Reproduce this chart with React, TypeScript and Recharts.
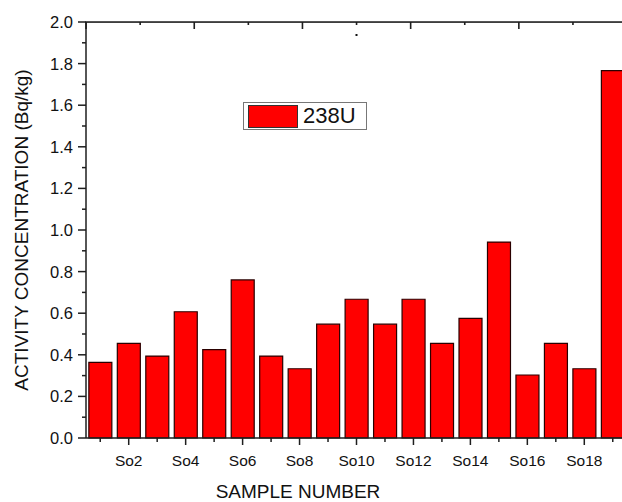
import React from 'react';
import { BarChart, Bar, XAxis, YAxis } from 'recharts';

const categories = ['So1','So2','So3','So4','So5','So6','So7','So8','So9','So10','So11','So12','So13','So14','So15','So16','So17','So18','So19'];
const u238 = [0.364, 0.455, 0.394, 0.607, 0.425, 0.76, 0.394, 0.333, 0.547, 0.667, 0.547, 0.667, 0.455, 0.575, 0.942, 0.303, 0.455, 0.333, 1.766];
const yTicks = [0, 0.1, 0.2, 0.3, 0.4, 0.5, 0.6, 0.7, 0.8, 0.9, 1.0, 1.1, 1.2, 1.3, 1.4, 1.5, 1.6, 1.7, 1.8, 1.9, 2.0];
const topTickSteps = [0, 1, 2, 3, 4, 5, 6, 7, 8, 9, 10];
const seriesName = '238U';
const xTitle = 'SAMPLE NUMBER';
const yTitle = 'ACTIVITY CONCENTRATION (Bq/kg)';

const data = categories.map((name, i) => ({ name, u238: u238[i] }));

const FONT = '"Liberation Sans", Arial, sans-serif';
const AX = '#1e1e1e';
const CHART_W = 641;
const CHART_H = 502;
const PLOT_TOP = 22;
const LEFT_AXIS_W = 86;
const RIGHT_AXIS_W = 14;
const BOTTOM_AXIS_H = 64;
const PLOT_LEFT = LEFT_AXIS_W;
const PLOT_W = CHART_W - LEFT_AXIS_W - RIGHT_AXIS_W;

const BottomTick = (props: any) => {
  const { x, y, payload, index } = props;
  const major = index % 2 === 1;
  return (
    <g>
      <line x1={x} y1={y} x2={x} y2={y + (major ? 7 : 4)} stroke={AX} strokeWidth={1.5} />
      {major && (
        <text x={x} y={y + 28} textAnchor="middle" fontSize={15.5} fontFamily={FONT} fill="#111">
          {payload.value}
        </text>
      )}
    </g>
  );
};

const LeftTick = (props: any) => {
  const { x, y, payload } = props;
  const major = Math.round(payload.value * 10) % 2 === 0;
  return (
    <g>
      <line x1={x} y1={y} x2={x - (major ? 8 : 4)} y2={y} stroke={AX} strokeWidth={1.5} />
      {major && (
        <text x={x - 13} y={y} dy="0.36em" textAnchor="end" fontSize={16.5} fontFamily={FONT} fill="#111">
          {payload.value.toFixed(1)}
        </text>
      )}
    </g>
  );
};

const RightTick = (props: any) => {
  const { x, y, payload } = props;
  const major = Math.round(payload.value * 10) % 2 === 0;
  return <line x1={x} y1={y} x2={x - (major ? 7 : 4)} y2={y} stroke={AX} strokeWidth={1.5} />;
};

const YTitle = () => (
  <text
    x={21}
    y={230}
    transform="rotate(-90 21 230)"
    textAnchor="middle"
    dominantBaseline="central"
    fontSize={19}
    fontFamily={FONT}
    fill="#111"
  >
    {yTitle}
  </text>
);

const XTitle = (props: any) => {
  const vb = props.viewBox || { x: PLOT_LEFT, y: CHART_H - BOTTOM_AXIS_H, width: PLOT_W, height: BOTTOM_AXIS_H };
  const n = topTickSteps.length - 1;
  return (
    <g>
      <rect x={vb.x - 0.75} y={PLOT_TOP - 0.75} width={vb.width + 1.5} height={1.6} fill={AX} />
      {topTickSteps.map((k) => {
        const tx = vb.x + (k * vb.width) / n;
        return <rect key={k} x={tx - 0.75} y={PLOT_TOP} width={1.6} height={k % 2 === 0 ? 7 : 3} fill={AX} />;
      })}
      <rect x={vb.x + (5 * vb.width) / n - 1} y={34} width={2} height={2} fill="#111" />
      <text x={298} y={491} textAnchor="middle" dominantBaseline="central" fontSize={19} fontFamily={FONT} fill="#111">
        {xTitle}
      </text>
    </g>
  );
};

export default function App() {
  return (
    <div style={{ width: 622, height: 502, overflow: 'hidden', position: 'relative', background: '#fff' }}>
      <style>{'html,body{margin:0;padding:0;overflow:hidden;}'}</style>
      <BarChart
        width={CHART_W}
        height={CHART_H}
        data={data}
        margin={{ top: PLOT_TOP, right: 0, bottom: 0, left: 0 }}
        barCategoryGap="10%"
      >
        <XAxis
          dataKey="name"
          height={BOTTOM_AXIS_H}
          interval={0}
          tickSize={0}
          tickMargin={0}
          tickLine={false}
          tick={<BottomTick />}
          axisLine={{ stroke: AX, strokeWidth: 1.5 }}
          label={<XTitle />}
        />
        <YAxis
          yAxisId="left"
          domain={[0, 2]}
          ticks={yTicks}
          width={LEFT_AXIS_W}
          interval={0}
          tickSize={0}
          tickMargin={0}
          tickLine={false}
          tick={<LeftTick />}
          axisLine={{ stroke: AX, strokeWidth: 1.5 }}
          label={<YTitle />}
        />
        <YAxis
          yAxisId="right"
          orientation="right"
          domain={[0, 2]}
          ticks={yTicks}
          width={RIGHT_AXIS_W}
          interval={0}
          tickSize={0}
          tickMargin={0}
          tickLine={false}
          tick={<RightTick />}
          axisLine={{ stroke: AX, strokeWidth: 1.5 }}
        />
        <Bar
          yAxisId="left"
          dataKey="u238"
          name={seriesName}
          fill="#ff0000"
          stroke="#2a0000"
          strokeWidth={1.2}
          isAnimationActive={false}
        />
      </BarChart>
      <div
        style={{
          position: 'absolute',
          left: 243,
          top: 102,
          display: 'flex',
          alignItems: 'center',
          border: '1px solid #777',
          background: '#fff',
          width: 122,
          height: 26,
          fontFamily: FONT,
        }}
      >
        <div style={{ width: 50, height: 23, marginLeft: 4, background: '#ff0000', border: '1px solid #333', boxSizing: 'border-box' }} />
        <span style={{ marginLeft: 5, fontSize: 22, color: '#111', lineHeight: '26px' }}>{seriesName}</span>
      </div>
    </div>
  );
}
